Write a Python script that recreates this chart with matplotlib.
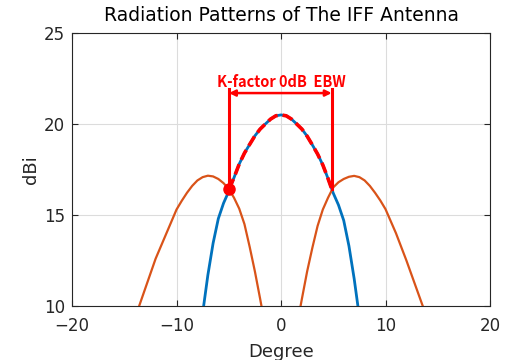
import matplotlib
matplotlib.use("Agg")
import matplotlib.pyplot as plt

# Main beam (blue)
main_deg = [-8, -7.5, -7, -6.5, -6, -5.5, -5, -4.5, -4, -3.5, -3, -2.5, -2, -1.5, -1, -0.5, 0,
            0.5, 1, 1.5, 2, 2.5, 3, 3.5, 4, 4.5, 5, 5.5, 6, 6.5, 7, 7.5, 8]
main_db = [7.5, 9.6, 11.7, 13.45, 14.8, 15.65, 16.3, 17.05, 17.8, 18.4, 18.88, 19.35, 19.72, 20.0, 20.27, 20.45, 20.5,
           20.45, 20.27, 20.0, 19.72, 19.33, 18.85, 18.35, 17.75, 17.0, 16.2, 15.55, 14.7, 13.3, 11.5, 9.4, 7.3]

# EBW overlay (red dashed) along the main beam
ebw_deg = [-4.98, -4.5, -4, -3.5, -3, -2.5, -2, -1.5, -1, -0.5, 0,
           0.5, 1, 1.5, 2, 2.5, 3, 3.5, 4, 4.5, 4.85]
ebw_db = [16.43, 17.05, 17.8, 18.4, 18.88, 19.35, 19.72, 20.0, 20.27, 20.45, 20.5,
          20.45, 20.27, 20.0, 19.72, 19.33, 18.85, 18.35, 17.75, 17.0, 16.43]

# Left adjacent beam (orange)
left_deg = [-14, -13, -12, -11, -10, -9.5, -9, -8.5, -8, -7.5, -7, -6.5, -6, -5.5, -5, -4.5, -4, -3.5, -3, -2.5, -2, -1]
left_db = [9.3, 10.95, 12.6, 13.95, 15.3, 15.78, 16.22, 16.6, 16.9, 17.08, 17.16, 17.12, 16.98, 16.75, 16.43, 15.95,
           15.35, 14.5, 13.25, 11.9, 10.4, 7.3]

# Right adjacent beam (orange)
right_deg = [1, 2, 2.5, 3, 3.5, 4, 4.5, 5, 5.5, 6, 6.5, 7, 7.5, 8, 8.5, 9, 9.5, 10, 11, 12, 13, 14]
right_db = [7.3, 10.4, 11.9, 13.2, 14.4, 15.3, 15.95, 16.52, 16.8, 16.98, 17.1, 17.15, 17.08, 16.9, 16.6,
            16.22, 15.8, 15.32, 14.0, 12.5, 10.9, 9.3]

ebw_left, ebw_right = -4.98, 4.85
ebw_level = 16.43
ebw_top = 21.95
arrow_y = 21.7
label_y = 22.3
label = "K-factor 0dB  EBW"

fig = plt.figure(figsize=(5.09, 3.60), dpi=100)
ax = fig.add_axes([0.1415, 0.15, 0.8212, 0.7583])

font = ["DejaVu Sans"]

ax.plot(main_deg, main_db, color="#0072BD", lw=2.0, zorder=3, solid_capstyle="butt")
ax.plot(left_deg, left_db, color="#D95319", lw=1.6, zorder=3)
ax.plot(right_deg, right_db, color="#D95319", lw=1.6, zorder=3)

ax.plot(ebw_deg, ebw_db, color="red", lw=2.6, ls=(0, (3, 1.4)), zorder=4)

ax.plot([ebw_left, ebw_left], [ebw_level, ebw_top], color="red", lw=2.2, zorder=5)
ax.plot([ebw_right, ebw_right], [ebw_level, ebw_top], color="red", lw=2.2, zorder=5)
ax.plot([ebw_left], [ebw_level], "o", color="red", ms=8, zorder=6)

ax.annotate("", xy=(ebw_left, arrow_y), xytext=(ebw_right, arrow_y),
            arrowprops=dict(arrowstyle="<|-|>", color="red", lw=1.8, mutation_scale=9,
                            shrinkA=0, shrinkB=0), zorder=6)
ax.text(0.0, label_y, label, color="red", fontweight="bold",
        fontsize=10.5, ha="center", va="center", family=["Noto Sans CJK KR", "DejaVu Sans"], zorder=6)

ax.set_xlim(-20, 20)
ax.set_ylim(10, 25)
ax.set_xticks([-20, -10, 0, 10, 20])
ax.set_yticks([10, 15, 20, 25])
ax.grid(True, color="#dcdcdc", lw=0.8)
ax.set_axisbelow(True)
for s in ax.spines.values():
    s.set_color("#262626")
    s.set_linewidth(0.8)
ax.tick_params(direction="in", length=4, color="#262626", labelcolor="#262626", labelsize=12,
               top=True, right=True)
ax.tick_params(axis="x", pad=8)
ax.tick_params(axis="y", pad=5)
for lab in ax.get_xticklabels() + ax.get_yticklabels():
    lab.set_family(font)
ax.set_title("Radiation Patterns of The IFF Antenna", fontsize=13.5, family=font, color="#000000", pad=9)
ax.set_xlabel("Degree", fontsize=13, family=font, color="#262626", labelpad=6)
ax.set_ylabel("dBi", fontsize=13, family=font, color="#262626", labelpad=3)

fig.savefig("out.png", dpi=100)
